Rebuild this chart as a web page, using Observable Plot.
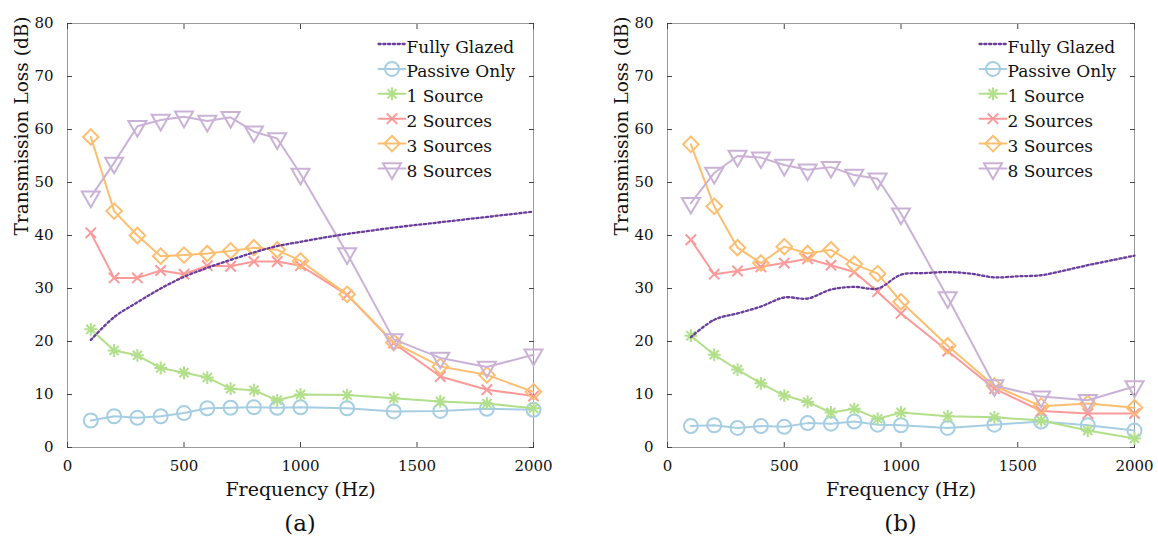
<!DOCTYPE html>
<html>
<head>
<meta charset="utf-8">
<script src="https://cdn.jsdelivr.net/npm/d3@7"></script>
<script src="https://cdn.jsdelivr.net/npm/@observablehq/plot@0.6"></script>
<style>
  html, body { margin: 0; padding: 0; background: #fff; }
  body { width: 1158px; height: 539px; position: relative; overflow: hidden; font-family: "DejaVu Serif", serif; color: #000; }
  .panel { position: absolute; top: 0; }
  .cap { position: absolute; top: 508px; height: 30px; line-height: 30px; font-size: 23px; text-align: center; color: #111; }
</style>
</head>
<body>
<div id="pa" class="panel" style="left:0px"></div>
<div id="pb" class="panel" style="left:600px"></div>
<div class="cap" style="left:67px;width:466px">(a)</div>
<div class="cap" style="left:667px;width:467px">(b)</div>
<script>
// ---------- data ----------
const seriesNames = ["Fully Glazed", "Passive Only", "1 Source", "2 Sources", "3 Sources", "8 Sources"];
const seriesColors = ["#6a3d9a", "#a6cee3", "#b2df8a", "#fb9a99", "#fdbf6f", "#cab2d6"];
const xTicks = [0, 500, 1000, 1500, 2000];
const yTicks = [0, 10, 20, 30, 40, 50, 60, 70, 80];

const freqs = [100, 200, 300, 400, 500, 600, 700, 800, 900, 1000, 1200, 1400, 1600, 1800, 2000];
const glazedFreqs = [100, 200, 300, 400, 500, 600, 700, 800, 900, 1000, 1100, 1200, 1300, 1400, 1500, 1600, 1700, 1800, 1900, 2000];

// panel (a)
const a_glazed = [20.3, 24.6, 27.4, 30.0, 32.2, 33.9, 35.4, 36.8, 38.0, 38.8, 39.6, 40.3, 40.9, 41.5, 42.0, 42.5, 43.0, 43.5, 44.0, 44.5];
const a_passive = [5.1, 5.9, 5.6, 5.9, 6.5, 7.4, 7.5, 7.6, 7.5, 7.6, 7.4, 6.8, 6.9, 7.3, 7.1];
const a_one = [22.3, 18.3, 17.4, 15.0, 14.1, 13.2, 11.1, 10.8, 8.9, 10.0, 9.9, 9.3, 8.7, 8.3, 7.4];
const a_two = [40.5, 32.0, 32.0, 33.4, 32.7, 34.3, 34.2, 35.1, 35.1, 34.3, 28.8, 19.7, 13.4, 10.9, 9.7];
const a_three = [58.6, 44.6, 40.0, 36.1, 36.3, 36.6, 37.1, 37.7, 37.3, 35.2, 28.9, 19.8, 15.3, 13.7, 10.5];
const a_eight = [47.3, 53.7, 60.6, 61.8, 62.4, 61.6, 62.3, 59.6, 58.3, 51.6, 36.6, 20.4, 16.9, 15.2, 17.5];

// panel (b)
const b_glazed = [20.8, 24.1, 25.3, 26.6, 28.3, 28.1, 29.8, 30.3, 30.0, 32.6, 32.9, 33.1, 32.8, 32.1, 32.3, 32.5, 33.4, 34.4, 35.3, 36.2];
const b_passive = [4.05, 4.2, 3.7, 4.05, 3.9, 4.6, 4.5, 4.9, 4.3, 4.2, 3.7, 4.3, 4.9, 4.2, 3.2];
const b_one = [21.1, 17.5, 14.7, 12.1, 9.8, 8.6, 6.6, 7.3, 5.4, 6.6, 5.9, 5.7, 5.1, 3.2, 1.7];
const b_two = [39.2, 32.7, 33.3, 34.1, 34.8, 35.6, 34.4, 33.1, 29.4, 25.3, 18.2, 11.1, 6.9, 6.4, 6.4];
const b_three = [57.2, 45.5, 37.7, 34.8, 37.9, 36.6, 37.3, 34.6, 32.8, 27.5, 19.2, 11.6, 7.8, 8.3, 7.5];
const b_eight = [46.1, 51.8, 55.0, 54.7, 53.3, 52.4, 52.9, 51.4, 50.7, 44.1, 28.3, 11.7, 9.6, 8.9, 11.5];

// ---------- styles ----------
const markerSpecs = {
  "Fully Glazed": [],
  "Passive Only": [{symbol: "circle", r: 7}],
  "1 Source": [{symbol: "plus", r: 4.2}, {symbol: "times", r: 4.2}],
  "2 Sources": [{symbol: "times", r: 4.8}],
  "3 Sources": [{symbol: "diamond2", r: 7}],
  "8 Sources": [{symbol: "triangle", r: 6.7, rotate: 180}]
};
const fmt = d3.format("d");
const segShape = {draw(ctx, l) { ctx.moveTo(0, 0); ctx.lineTo(0, -l); }};
const FONT = "'DejaVu Serif', serif";

function toRows(xs, ys) { return xs.map((f, i) => ({f, tl: ys[i]})); }

function buildPanel(width, marginRight, glazed, seriesVals) {
  const marks = [];
  marks.push(Plot.frame({stroke: "#9a9a9a", strokeWidth: 1}));
  // inward ticks on all four sides
  marks.push(Plot.axisX({anchor: "bottom", ticks: xTicks, tickSize: -5, fill: "none", stroke: "#444", label: null}));
  marks.push(Plot.axisX({anchor: "top", ticks: xTicks, tickSize: -5, fill: "none", stroke: "#444", label: null}));
  marks.push(Plot.axisY({anchor: "left", ticks: yTicks, tickSize: -5, fill: "none", stroke: "#444", label: null}));
  marks.push(Plot.axisY({anchor: "right", ticks: yTicks, tickSize: -5, fill: "none", stroke: "#444", label: null}));
  // tick labels
  marks.push(Plot.axisX({anchor: "bottom", ticks: xTicks, tickSize: 0, tickPadding: 13, tickFormat: fmt, label: null, fontSize: 15, fill: "#111"}));
  marks.push(Plot.axisY({anchor: "left", ticks: yTicks, tickSize: 0, tickPadding: 14, tickFormat: fmt, label: null, fontSize: 15, fill: "#111"}));
  // axis titles
  marks.push(Plot.text(["Frequency (Hz)"], {frameAnchor: "bottom", dy: 48, fontSize: 19, fill: "#111"}));
  marks.push(Plot.text(["Transmission Loss (dB)"], {frameAnchor: "left", dx: -45, rotate: -90, fontSize: 18.5, fill: "#111"}));

  // series with markers
  seriesNames.slice(1).forEach((name, k) => {
    const color = seriesColors[k + 1];
    const rows = toRows(freqs, seriesVals[k]);
    marks.push(Plot.line(rows, {x: "f", y: "tl", stroke: color, strokeWidth: 2}));
    for (const m of markerSpecs[name]) {
      marks.push(Plot.dot(rows, {x: "f", y: "tl", symbol: m.symbol, r: m.r, rotate: m.rotate || 0, stroke: color, fill: "none", strokeWidth: 2}));
    }
  });
  // fully glazed dotted curve on top
  marks.push(Plot.line(toRows(glazedFreqs, glazed), {x: "f", y: "tl", stroke: seriesColors[0], strokeWidth: 2.3, strokeDasharray: "2.2,2.6", curve: "catmull-rom"}));

  // legend (inside, top-right of frame)
  seriesNames.forEach((name, i) => {
    const color = seriesColors[i];
    const dy = 20.5 + i * 24.9;
    marks.push(Plot.vector([0], {frameAnchor: "top-right", dx: -155, dy, length: 27, rotate: 90, anchor: "start", shape: segShape, stroke: color, strokeWidth: i === 0 ? 2.3 : 2, strokeDasharray: i === 0 ? "2.2,2.6" : null}));
    for (const m of markerSpecs[name]) {
      marks.push(Plot.dot([0], {frameAnchor: "top-right", dx: -141.5, dy, symbol: m.symbol, r: m.r, rotate: m.rotate || 0, stroke: color, fill: "none", strokeWidth: 2}));
    }
    marks.push(Plot.text([name], {frameAnchor: "top-right", dx: -127, dy: dy - 3.5, textAnchor: "start", fontSize: 17, fill: "#111"}));
  });

  return Plot.plot({
    width, height: 510,
    marginTop: 23, marginBottom: 63, marginLeft: 67, marginRight,
    x: {domain: [0, 2000]},
    y: {domain: [0, 80]},
    style: {fontFamily: FONT, fontSize: "15px", background: "transparent", overflow: "visible", color: "#111"},
    marks
  });
}

document.getElementById("pa").append(buildPanel(560, 27, a_glazed, [a_passive, a_one, a_two, a_three, a_eight]));
document.getElementById("pb").append(buildPanel(558, 24, b_glazed, [b_passive, b_one, b_two, b_three, b_eight]));
</script>
</body>
</html>
